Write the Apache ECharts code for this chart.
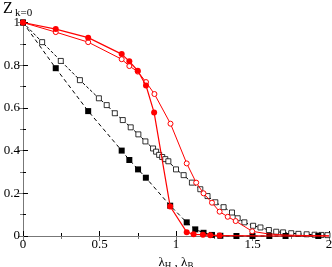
<!DOCTYPE html>
<html><head><meta charset="utf-8">
<script src="https://cdn.jsdelivr.net/npm/echarts@6/dist/echarts.min.js"></script>
<style>html,body{margin:0;padding:0;background:#fff}#c{width:332px;height:267px}</style>
</head><body><div id="c"></div>
<script>
// Tick labels
const xTicks = ['0','0.5','1','1.5','2'];
const yTicks = ['0','0.2','0.4','0.6','0.8','1'];
// Black filled squares (dashed)
const blackFilledX = [0, 0.214, 0.426, 0.645, 0.695, 0.752, 0.803, 0.962, 1.07, 1.126, 1.18, 1.235, 1.29, 1.395, 1.5, 1.61, 1.716, 1.93];
const blackFilledY = [1, 0.786, 0.585, 0.40, 0.356, 0.312, 0.273, 0.142, 0.064, 0.031, 0.015, 0.005, 0.001, 0, 0, 0, 0, 0];
// Black open squares (dashed)
const blackOpenX = [0, 0.125, 0.247, 0.372, 0.496, 0.547, 0.6, 0.652, 0.704, 0.754, 0.8, 0.85, 0.87, 0.89, 0.91, 0.93, 0.95, 1.0, 1.05, 1.104, 1.159, 1.206, 1.257, 1.311, 1.366, 1.403, 1.447, 1.504, 1.552, 1.607, 1.655, 1.7, 1.753, 1.8, 1.854, 1.906, 1.95, 1.99];
const blackOpenY = [1, 0.908, 0.82, 0.73, 0.645, 0.613, 0.575, 0.543, 0.509, 0.476, 0.443, 0.41, 0.395, 0.38, 0.37, 0.36, 0.35, 0.312, 0.285, 0.25, 0.219, 0.187, 0.158, 0.135, 0.11, 0.083, 0.064, 0.048, 0.04, 0.028, 0.02, 0.017, 0.013, 0.01, 0.008, 0.006, 0.005, 0.004];
// Red filled circles (solid)
const redFilledX = [0, 0.214, 0.426, 0.645, 0.695, 0.75, 0.804, 0.857, 0.962, 1.07, 1.115, 1.176, 1.224, 1.285];
const redFilledY = [1, 0.969, 0.929, 0.852, 0.818, 0.774, 0.705, 0.578, 0.138, 0.018, 0.008, 0.006, 0.004, 0.002];
const redFilledTailX = [1.285, 1.5, 1.75, 2.0];
const redFilledTailY = [0.002, 0.001, 0.0, 0.0];
// Red open circles (solid)
const redOpenX = [0, 0.214, 0.426, 0.645, 0.695, 0.75, 0.804, 0.859, 0.964, 1.07, 1.132, 1.18, 1.235, 1.285, 1.338, 1.39, 1.498];
const redOpenY = [1, 0.955, 0.908, 0.828, 0.796, 0.77, 0.721, 0.665, 0.526, 0.34, 0.25, 0.2, 0.156, 0.114, 0.09, 0.07, 0.022];
const redOpenTailX = [1.498, 1.6, 1.7, 1.85, 2.0];
const redOpenTailY = [0.022, 0.01, 0.005, 0.002, 0.001];

const zip = (a, b) => a.map((v, i) => [v, b[i]]);
const serif = 'Liberation Serif';
const chart = echarts.init(document.getElementById('c'), null, {renderer: 'canvas'});
const tickInside = {show: true, inside: true, length: 5, lineStyle: {color: '#000'}};
const minorInside = {show: true, splitNumber: 2, length: 3, lineStyle: {color: '#000'}};
chart.setOption({
  animation: false,
  backgroundColor: '#fff',
  grid: {left: 23, right: 3, top: 22.5, bottom: 31, containLabel: false, outerBoundsMode: 'none'},
  graphic: [
    {type: 'text', left: 3, top: 1, style: {text: 'Z', font: '16px "Liberation Serif"', fill: '#000'}},
    {type: 'text', left: 15, top: 8, style: {text: 'k=0', font: '11px "Liberation Serif"', fill: '#000'}}
  ],
  xAxis: [{
    type: 'value', min: 0, max: 2, interval: 0.5,
    name: '{l|λ}{s|H}{l| , λ}{s|B}', nameLocation: 'middle', nameGap: 18,
    nameTextStyle: {rich: {l: {fontFamily: serif, fontSize: 13, color: '#000'}, s: {fontFamily: serif, fontSize: 9, color: '#000', padding: [7, 0, 0, 0]}}},
    axisLine: {lineStyle: {color: '#000'}}, axisTick: tickInside, minorTick: minorInside,
    splitLine: {show: false},
    axisLabel: {fontFamily: serif, fontSize: 13, color: '#000', margin: 2, formatter: v => xTicks[Math.round(v / 0.5)]}
  }, {
    type: 'value', min: 0, max: 2, interval: 0.5, position: 'top',
    axisLine: {show: true, lineStyle: {color: '#777'}}, axisTick: {show: true, inside: true, length: 5, lineStyle: {color: '#777'}},
    minorTick: {show: true, splitNumber: 2, length: 3, lineStyle: {color: '#777'}},
    axisLabel: {show: false}, splitLine: {show: false}
  }],
  yAxis: [{
    type: 'value', min: 0, max: 1, interval: 0.2,
    axisLine: {show: true, lineStyle: {color: '#000'}}, axisTick: tickInside, minorTick: minorInside,
    splitLine: {show: false},
    axisLabel: {fontFamily: serif, fontSize: 13, color: '#000', margin: 3, formatter: v => yTicks[Math.round(v / 0.2)]}
  }, {
    type: 'value', min: 0, max: 1, interval: 0.2, position: 'right',
    axisLine: {show: true, lineStyle: {color: '#777'}}, axisTick: {show: true, inside: true, length: 5, lineStyle: {color: '#777'}},
    minorTick: {show: true, splitNumber: 2, length: 3, lineStyle: {color: '#777'}},
    axisLabel: {show: false}, splitLine: {show: false}
  }],
  series: [
    {type: 'line', data: zip(blackOpenX, blackOpenY), clip: false, symbol: 'rect', symbolSize: 5,
     itemStyle: {color: '#fff', borderColor: '#000', borderWidth: 0.8}, lineStyle: {color: '#000', width: 1, type: [3, 2]}, z: 2},
    {type: 'line', data: zip(blackFilledX, blackFilledY), clip: false, symbol: 'rect', symbolSize: 6,
     itemStyle: {color: '#000'}, lineStyle: {color: '#000', width: 1, type: [4, 3]}, z: 3},
    {type: 'line', data: zip(redOpenTailX, redOpenTailY), clip: false, showSymbol: false, symbol: 'none',
     lineStyle: {color: '#ff0000', width: 1}, z: 4},
    {type: 'line', data: zip(redOpenX, redOpenY), clip: false, symbol: 'circle', symbolSize: 5,
     itemStyle: {color: '#fff', borderColor: '#ff0000', borderWidth: 1}, lineStyle: {color: '#ff0000', width: 1}, z: 4},
    {type: 'line', data: zip(redFilledTailX, redFilledTailY), clip: false, symbol: 'none',
     lineStyle: {color: '#ff0000', width: 1.2}, z: 5},
    {type: 'line', data: zip(redFilledX, redFilledY), clip: false, symbol: 'circle', symbolSize: 6,
     itemStyle: {color: '#ff0000'}, lineStyle: {color: '#ff0000', width: 1.2}, z: 5}
  ]
});
</script></body></html>
